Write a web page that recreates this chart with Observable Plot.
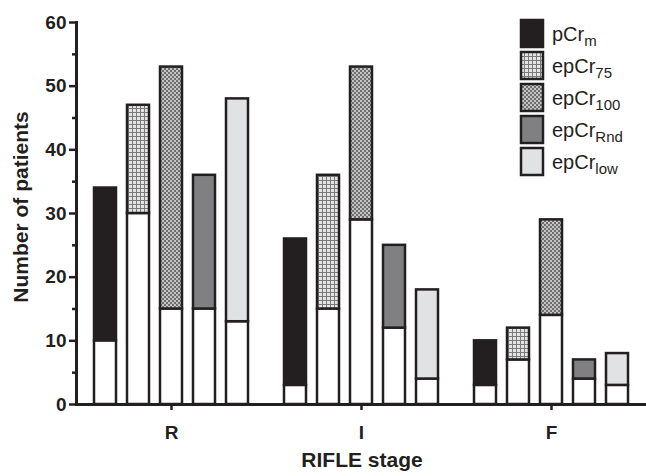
<!DOCTYPE html>
<html><head><meta charset="utf-8">
<script src="https://cdn.jsdelivr.net/npm/d3@7"></script>
<script src="https://cdn.jsdelivr.net/npm/@observablehq/plot@0.6"></script>
<style>body{margin:0;background:#fff;}</style>
</head><body><div id="chart"></div>
<script>
const stages = ["R", "I", "F"];
const series = ["pCrm", "epCr75", "epCr100", "epCrRnd", "epCrlow"];
const seriesBase = ["pCr", "epCr", "epCr", "epCr", "epCr"];
const seriesSub = ["m", "75", "100", "Rnd", "low"];
const totalR = [34, 47, 53, 36, 48];
const totalI = [26, 36, 53, 25, 18];
const totalF = [10, 12, 29, 7, 8];
const whiteR = [10, 30, 15, 15, 13];
const whiteI = [3, 15, 29, 12, 4];
const whiteF = [3, 7, 14, 4, 3];
const seriesFill = ["#231f20", "url(#p75)", "url(#p100)", "#808082", "#e1e2e3"];
const yTicks = [0, 10, 20, 30, 40, 50, 60];
const yMinorTicks = [5, 15, 25, 35, 45, 55];

const totals = {R: totalR, I: totalI, F: totalF};
const whites = {R: whiteR, I: whiteI, F: whiteF};
const rows = stages.flatMap(s => series.map((k, i) => ({stage: s, series: k, white: whites[s][i], total: totals[s][i]})));

const ink = "#231f20";
const font = "'Liberation Sans', Arial, sans-serif";

const plot = Plot.plot({
  width: 646, height: 476,
  marginTop: 22, marginBottom: 72, marginLeft: 76, marginRight: 0,
  style: {fontFamily: font, color: ink, background: "white"},
  fx: {domain: stages, padding: 0},
  x: {domain: series, paddingInner: 0.32, paddingOuter: 0.48, axis: null},
  y: {domain: [0, 60]},
  color: {domain: series, range: seriesFill},
  marks: [
    Plot.barY(rows, {fx: "stage", x: "series", y1: 0, y2: "white", fill: "white", stroke: ink, strokeWidth: 2.5}),
    Plot.barY(rows, {fx: "stage", x: "series", y1: "white", y2: "total", fill: "series", stroke: ink, strokeWidth: 2.5}),
    Plot.ruleY([0], {stroke: ink, strokeWidth: 3}),
    Plot.axisY({ticks: yTicks, tickSize: 7, tickPadding: 3, fontSize: 19, fontWeight: "bold", label: null, strokeWidth: 2.5}),
    Plot.axisY({ticks: yMinorTicks, tickSize: 4, tickFormat: () => "", label: null, strokeWidth: 2.5}),
    Plot.frame({anchor: "left", facetAnchor: "left", stroke: ink, strokeWidth: 3}),
    Plot.axisFx({anchor: "bottom", tickSize: 6, tickPadding: 15, fontSize: 19, fontWeight: "bold", strokeWidth: 2.5, label: null})
  ]
});
document.getElementById("chart").appendChild(plot);

const svg = d3.select(plot);
const defs = svg.insert("defs", ":first-child");
const p75 = defs.append("pattern").attr("id", "p75").attr("patternUnits", "userSpaceOnUse").attr("width", 4).attr("height", 4);
p75.append("rect").attr("width", 4).attr("height", 4).attr("fill", "#e4e4e4");
p75.append("rect").attr("width", 4).attr("height", 1).attr("fill", "#7a7a7a");
p75.append("rect").attr("width", 1).attr("height", 4).attr("fill", "#7a7a7a");
const p100 = defs.append("pattern").attr("id", "p100").attr("patternUnits", "userSpaceOnUse").attr("width", 4).attr("height", 4);
p100.append("rect").attr("width", 4).attr("height", 4).attr("fill", "#c4c4c4");
p100.append("rect").attr("width", 2).attr("height", 2).attr("fill", "#6e6e6e");
p100.append("rect").attr("x", 2).attr("y", 2).attr("width", 2).attr("height", 2).attr("fill", "#6e6e6e");

// axis titles
svg.append("text").attr("font-family", font).attr("font-weight", "bold").attr("font-size", 21)
  .attr("fill", ink).attr("text-anchor", "middle")
  .attr("transform", "translate(28,207) rotate(-90)").text("Number of patients");
svg.append("text").attr("font-family", font).attr("font-weight", "bold").attr("font-size", 21)
  .attr("fill", ink).attr("text-anchor", "middle")
  .attr("x", 362).attr("y", 467).text("RIFLE stage");

const legend = svg.append("g").attr("font-family", font).attr("fill", ink).attr("text-anchor", "start");
series.forEach((k, i) => {
  const y0 = 20 + 32 * i;
  legend.append("rect").attr("x", 521).attr("y", y0).attr("width", 22).attr("height", 27)
    .attr("fill", seriesFill[i]).attr("stroke", ink).attr("stroke-width", 2.5);
  const t = legend.append("text").attr("x", 552).attr("y", y0 + 21).attr("font-size", 20);
  t.append("tspan").text(seriesBase[i]);
  t.append("tspan").attr("dy", 5).attr("font-size", 15).text(seriesSub[i]);
});
</script>
</body></html>
